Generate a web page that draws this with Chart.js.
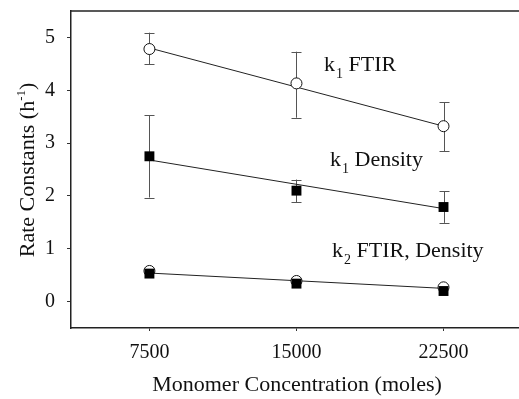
<!DOCTYPE html>
<html>
<head>
<meta charset="utf-8">
<script src="https://cdn.jsdelivr.net/npm/chart.js@4"></script>
<style>
  html, body { margin: 0; padding: 0; background: #fff; overflow: hidden; }
  #wrap { width: 519px; height: 399px; }
</style>
</head>
<body>
<div id="wrap"><canvas id="chart" width="519" height="399"></canvas></div>
<script>
// monomer concentrations (x) and tick values
const concentrations = [7500, 15000, 22500];
const xTicks = [7500, 15000, 22500];
const yTicks = [0, 1, 2, 3, 4, 5];

// k1 from FTIR, with error bar limits
const k1Ftir = [4.78, 4.13, 3.32];
const k1FtirHigh = [5.09, 4.73, 3.77];
const k1FtirLow = [4.49, 3.48, 2.85];

// k1 from density, with error bar limits
const k1Density = [2.75, 2.10, 1.79];
const k1DensityHigh = [3.53, 2.31, 2.09];
const k1DensityLow = [1.97, 1.88, 1.49];

// k2 from FTIR and from density
const k2Ftir = [0.58, 0.39, 0.27];
const k2Density = [0.53, 0.34, 0.20];

// fitted straight lines (end points)
const fitX = [7500, 22500];
const fitK1Ftir = [4.80, 3.32];
const fitK1Density = [2.68, 1.76];
const fitK2 = [0.54, 0.25];

const serif = "'Liberation Serif', 'Times New Roman', serif";

function pts(xs, ys) {
  return xs.map((x, i) => ({ x: x, y: ys[i] }));
}

// Error bars, drawn under the markers
const errorBars = {
  id: "errorBars",
  beforeDatasetsDraw(chart) {
    const ctx = chart.ctx;
    const xs = chart.scales.x;
    const ys = chart.scales.y;
    const sets = [
      [k1FtirLow, k1FtirHigh],
      [k1DensityLow, k1DensityHigh],
    ];
    ctx.save();
    ctx.strokeStyle = "#555";
    ctx.lineWidth = 1;
    sets.forEach(([lo, hi]) => {
      concentrations.forEach((c, i) => {
        const px = Math.round(xs.getPixelForValue(c)) + 0.5;
        const pLo = ys.getPixelForValue(lo[i]);
        const pHi = ys.getPixelForValue(hi[i]);
        ctx.beginPath();
        ctx.moveTo(px, pLo);
        ctx.lineTo(px, pHi);
        ctx.moveTo(px - 5, Math.round(pLo) + 0.5);
        ctx.lineTo(px + 5, Math.round(pLo) + 0.5);
        ctx.moveTo(px - 5, Math.round(pHi) + 0.5);
        ctx.lineTo(px + 5, Math.round(pHi) + 0.5);
        ctx.stroke();
      });
    });
    ctx.restore();
  },
};

// Top frame line, axis titles and series labels with sub/superscripts
function drawSubLabel(ctx, x, y, main, sub, rest, size) {
  ctx.font = size + "px " + serif;
  ctx.fillText(main, x, y);
  x += ctx.measureText(main).width + 1;
  ctx.font = Math.round(size * 0.62) + "px " + serif;
  ctx.fillText(sub, x, y + size * 0.3);
  x += ctx.measureText(sub).width;
  ctx.font = size + "px " + serif;
  ctx.fillText(rest, x, y);
}

const decorations = {
  id: "decorations",
  afterDraw(chart) {
    const ctx = chart.ctx;
    const a = chart.chartArea;
    ctx.save();
    ctx.strokeStyle = "#222";
    ctx.lineWidth = 1.5;
    ctx.beginPath();
    ctx.moveTo(a.left, a.top);
    ctx.lineTo(a.right, a.top);
    ctx.stroke();

    ctx.fillStyle = "#111";
    ctx.textBaseline = "alphabetic";
    ctx.textAlign = "left";
    drawSubLabel(ctx, 324, 71, "k", "1", " FTIR", 22);
    drawSubLabel(ctx, 330, 166, "k", "1", " Density", 22);
    drawSubLabel(ctx, 332, 257, "k", "2", " FTIR, Density", 22);

    // x axis title
    ctx.font = "22px " + serif;
    ctx.textAlign = "center";
    ctx.textBaseline = "middle";
    ctx.fillText("Monomer Concentration (moles)", 297, 385);

    // y axis title, rotated, with superscript
    ctx.translate(26, 170);
    ctx.rotate(-Math.PI / 2);
    const main = "Rate Constants (h";
    const sup = "-1";
    const close = ")";
    ctx.font = "22px " + serif;
    const w1 = ctx.measureText(main).width;
    const w3 = ctx.measureText(close).width;
    ctx.font = "13px " + serif;
    const w2 = ctx.measureText(sup).width;
    let x = -(w1 + w2 + w3) / 2;
    ctx.textAlign = "left";
    ctx.textBaseline = "alphabetic";
    ctx.font = "22px " + serif;
    ctx.fillText(main, x, 8);
    x += w1;
    ctx.font = "13px " + serif;
    ctx.fillText(sup, x, -1);
    x += w2;
    ctx.font = "22px " + serif;
    ctx.fillText(close, x, 8);
    ctx.restore();
  },
};

const lineStyle = {
  type: "line",
  showLine: true,
  borderColor: "#222",
  borderWidth: 1,
  pointRadius: 0,
  fill: false,
  order: 5,
};

new Chart(document.getElementById("chart"), {
  type: "scatter",
  data: {
    datasets: [
      Object.assign({ label: "fit k1 FTIR", data: pts(fitX, fitK1Ftir) }, lineStyle),
      Object.assign({ label: "fit k1 Density", data: pts(fitX, fitK1Density) }, lineStyle),
      Object.assign({ label: "fit k2", data: pts(fitX, fitK2) }, lineStyle),
      {
        label: "k1 FTIR",
        data: pts(concentrations, k1Ftir),
        pointStyle: "circle",
        pointRadius: 5.5,
        backgroundColor: "#fff",
        borderColor: "#111",
        borderWidth: 1,
        order: 2,
      },
      {
        label: "k2 FTIR",
        data: pts(concentrations, k2Ftir),
        pointStyle: "circle",
        pointRadius: 5.5,
        backgroundColor: "#fff",
        borderColor: "#111",
        borderWidth: 1,
        order: 3,
      },
      {
        label: "k1 Density",
        data: pts(concentrations, k1Density),
        pointStyle: "rect",
        pointRadius: 7,
        backgroundColor: "#000",
        borderColor: "#000",
        borderWidth: 0,
        order: 1,
      },
      {
        label: "k2 Density",
        data: pts(concentrations, k2Density),
        pointStyle: "rect",
        pointRadius: 7,
        backgroundColor: "#000",
        borderColor: "#000",
        borderWidth: 0,
        order: 1,
      },
    ],
  },
  options: {
    responsive: false,
    animation: false,
    layout: { autoPadding: false, padding: { top: 11, right: 0, left: 0, bottom: 0 } },
    plugins: {
      legend: { display: false },
      tooltip: { enabled: false },
    },
    scales: {
      x: {
        type: "linear",
        min: 3500,
        max: 26350,
        afterBuildTicks: (s) => { s.ticks = xTicks.map((v) => ({ value: v })); },
        afterFit: (s) => { s.height = 71; s.paddingLeft = 0; s.paddingRight = 0; },
        grid: { display: true, drawOnChartArea: false, drawTicks: true, tickLength: 3, color: "#333" },
        border: { display: true, color: "#222", width: 1.5 },
        ticks: {
          color: "#111",
          padding: 10,
          maxRotation: 0,
          font: { family: serif, size: 20 },
          callback: (v) => String(v),
        },
      },
      y: {
        min: -0.5,
        max: 5.5,
        afterBuildTicks: (s) => { s.ticks = yTicks.map((v) => ({ value: v })); },
        afterFit: (s) => { s.width = 71; s.paddingTop = 0; s.paddingBottom = 0; },
        grid: { display: true, drawOnChartArea: false, drawTicks: true, tickLength: 4, color: "#333" },
        border: { display: true, color: "#222", width: 1.5 },
        ticks: {
          color: "#111",
          padding: 12,
          font: { family: serif, size: 20 },
          callback: (v) => String(v),
        },
      },
    },
  },
  plugins: [errorBars, decorations],
});
</script>
</body>
</html>
